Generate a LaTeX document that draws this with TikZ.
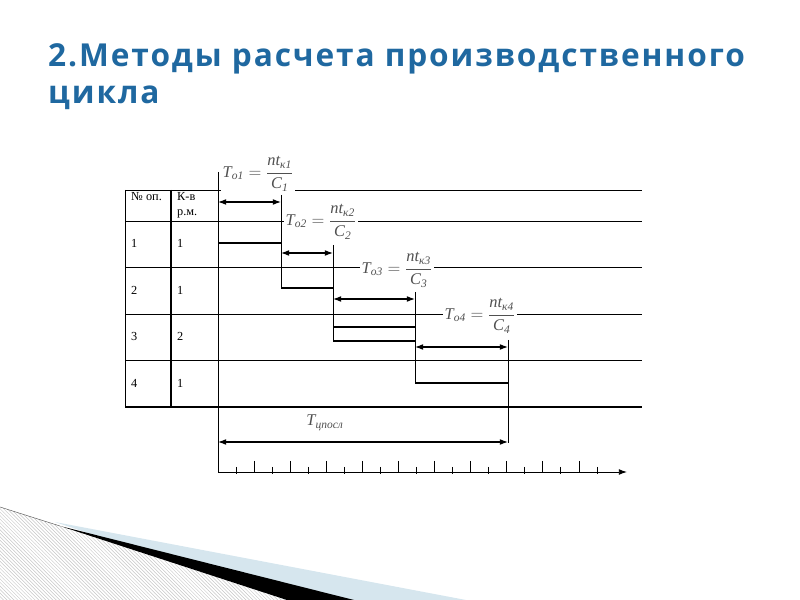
\documentclass[tikz,border=0pt]{standalone}
\usepackage{fontspec}
\usepackage{amsmath}
\setmainfont{Liberation Serif}
\newfontfamily\titlefont[LetterSpace=6]{Open Sans}
\usetikzlibrary{arrows.meta,patterns}

\definecolor{titleblue}{RGB}{31,104,160}
\definecolor{formgray}{RGB}{80,80,80}
\definecolor{swooshblue}{RGB}{214,230,238}

% formula for the time of one operation
\newcommand{\opform}[1]{$\textit{T}_{\text{\itshape о#1}}=\dfrac{\textit{nt}_{\text{\itshape к#1}}}{\textit{C}_{\text{\itshape #1}}}$}

\tikzset{
	gridline/.style={line width=0.8pt},
	opbar/.style={line width=2pt},
	span/.style={{Latex[length=7pt,width=5pt]}-{Latex[length=7pt,width=5pt]}, line width=0.9pt},
	formula/.style={fill=white, inner sep=1pt, text=formgray, font=\fontsize{14}{16}\selectfont},
	cell/.style={anchor=base west, inner sep=0pt, font=\fontsize{10.5}{12}\selectfont},
}

\begin{document}
\begin{tikzpicture}[x=0.03cm, y=-0.03cm]
		\useasboundingbox (0,0) rectangle (800,600);
		% title
		\node[anchor=base west, inner sep=0pt, text=titleblue, font=\titlefont\bfseries\fontsize{27}{31}\selectfont] (title1) at (48,67) {2.Методы расчета производственного};
		\node[anchor=base west, inner sep=0pt, text=titleblue, font=\titlefont\bfseries\fontsize{27}{31}\selectfont] (title2) at (48,104) {цикла};
		% swoosh in the corner
		\fill[pattern=north west lines, pattern color=gray!45] (0,507) -- (287,600) -- (0,600) -- cycle;
		\fill[swooshblue] (55,522) -- (466,600) -- (287,600) -- cycle;
		\fill[black] (60,526) -- (354,600) -- (287,600) -- cycle;
		\draw[gray!70!black, line width=0.4pt] (0,507) -- (60,526);
		% table and rows
		\foreach \y in {190,221,267,314,360}
			\draw[gridline] (125,\y) -- (642,\y);
		\draw[opbar] (125,407) -- (642,407);
		\draw[gridline] (125,190) -- (125,407);
		\draw[line width=1.6pt] (171,190) -- (171,407);
		\node[cell] (h1) at (131,201) {№ оп.};
		\node[cell] (h2) at (177,201) {К-в};
		\node[cell] (h3) at (177,216) {р.м.};
		\node[cell] (n1) at (131,248) {1};
		\node[cell] (k1) at (177,248) {1};
		\node[cell] (n2) at (131,295) {2};
		\node[cell] (k2) at (177,295) {1};
		\node[cell] (n3) at (131,341) {3};
		\node[cell] (k3) at (177,341) {2};
		\node[cell] (n4) at (131,388) {4};
		\node[cell] (k4) at (177,388) {1};
		% time marks
		\coordinate (s0) at (218,172);
		\coordinate (o) at (218,472);
		\coordinate (xend) at (627,472);
		\coordinate (t1) at (281,195);
		\coordinate (t1b) at (281,288);
		\coordinate (t2) at (333,245);
		\coordinate (t2b) at (333,341);
		\coordinate (t3) at (415,292);
		\coordinate (t3b) at (415,383);
		\coordinate (t4) at (508,340);
		\coordinate (t4b) at (508,443);
		% operations
		\draw[opbar] (218,243) -- (t1 |- 0,243);
		\draw[opbar] (t1b) -- (t2 |- t1b);
		\draw[opbar] (t2 |- 0,327) -- (t3 |- 0,327);
		\draw[opbar] (t2b) -- (t3 |- t2b);
		\draw[opbar] (t3b) -- (t4 |- t3b);
		\draw[span] (s0 |- 0,202) -- (t1 |- 0,202);
		\draw[span] (t1 |- 0,253) -- (t2 |- 0,253);
		\draw[span] (t2 |- 0,299) -- (t3 |- 0,299);
		\draw[span] (t3 |- 0,347) -- (t4 |- 0,347);
		\draw[span] (o |- 0,442) -- (t4 |- 0,442);
		\node[formula] (f1) at (258,174) {\opform{1}};
		\node[formula] (f2) at (321,222) {\opform{2}};
		\node[formula] (f3) at (397,270) {\opform{3}};
		\node[formula] (f4) at (480,316) {\opform{4}};
		\node[formula, fill=none] (tc) at (325,423) {$\textit{T}_{\text{\itshape цпосл}}$};
		\draw[gridline] (s0) -- (o);
		\draw[gridline] (t1) -- (t1b);
		\draw[gridline] (t2) -- (t2b);
		\draw[gridline] (t3) -- (t3b);
		\draw[gridline] (t4) -- (t4b);
		% time axis
		\draw[gridline, -{Latex[length=7pt,width=5pt]}] (o) -- (xend);
		\foreach \k in {1,...,21}{
			\ifodd\k
				\draw[gridline] (218+18.05*\k,467) -- (218+18.05*\k,474);
			\else
				\draw[gridline] (218+18.05*\k,461) -- (218+18.05*\k,472);
			\fi
		}
\end{tikzpicture}
\end{document}
